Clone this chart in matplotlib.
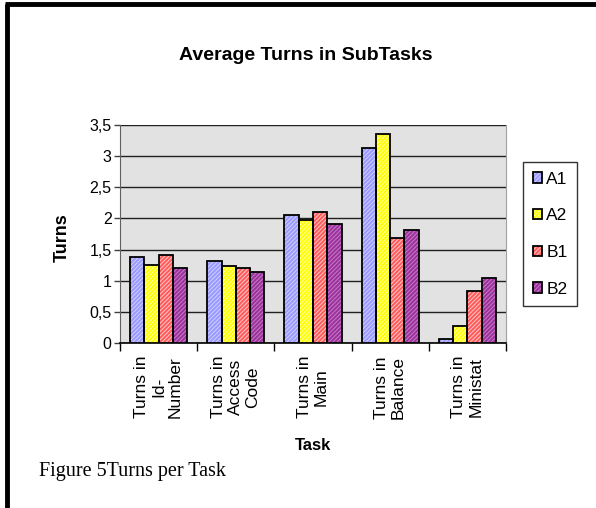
import matplotlib
matplotlib.use("Agg")
import matplotlib.pyplot as plt
import numpy as np
from matplotlib.lines import Line2D
from matplotlib.legend_handler import HandlerTuple

# Data
categories = ["Turns in\nId-\nNumber", "Turns in\nAccess\nCode", "Turns in\nMain",
              "Turns in\nBalance", "Turns in\nMinistat"]
series_names = ["A1", "A2", "B1", "B2"]
a1 = [1.38, 1.32, 2.06, 3.13, 0.06]
a2 = [1.26, 1.23, 1.98, 3.35, 0.28]
b1 = [1.41, 1.20, 2.10, 1.69, 0.83]
b2 = [1.20, 1.14, 1.91, 1.82, 1.05]
y_ticks = [0, 0.5, 1, 1.5, 2, 2.5, 3, 3.5]
y_tick_labels = ["0", "0,5", "1", "1,5", "2", "2,5", "3", "3,5"]

series = [a1, a2, b1, b2]
face_colors = ["#9999ff", "#ffff00", "#ff5a5a", "#993399"]
hatch_colors = ["#d0d0ff", "#ffffa8", "#ffc8c8", "#cc77cc"]

plt.rcParams["font.family"] = ["Liberation Sans", "DejaVu Sans"]
plt.rcParams["hatch.linewidth"] = 0.7

W, H = 596, 508
fig = plt.figure(figsize=(W / 100, H / 100), dpi=100)
fig.patch.set_facecolor("white")

ax = fig.add_axes([120 / W, 1 - 343 / H, 386 / W, 218 / H])
ax.set_facecolor("#e2e2e2")

x = np.arange(len(categories))
bw = 0.185
offsets = (np.arange(len(series)) - 1.5) * bw
handles = []
for vals, off, fc, hc in zip(series, offsets, face_colors, hatch_colors):
    fill = ax.bar(x + off, vals, bw, color=fc, edgecolor=hc, linewidth=0,
                  hatch="////////", zorder=3)
    edge = ax.bar(x + off, vals, bw, fill=False, edgecolor="black",
                  linewidth=1.3, zorder=4)
    handles.append((fill[0], edge[0]))

ax.set_xlim(-0.5, len(categories) - 0.5)
ax.set_ylim(0, 3.5)
ax.set_yticks(y_ticks)
ax.set_yticklabels(y_tick_labels, fontsize=11.5)
ax.yaxis.grid(True, color="#202020", linewidth=1.0, zorder=1)
ax.set_axisbelow(True)

# category labels between boundary ticks
ax.set_xticks(np.arange(len(categories) + 1) - 0.5)
ax.set_xticklabels([])
ax.tick_params(axis="x", direction="out", length=6, width=1, color="black")
ax.tick_params(axis="y", direction="out", length=4, width=1, color="#404040", pad=2)
for xi, lab in zip(x, categories):
    ax.text(xi, -13 / 218, lab, rotation=90, ha="center", va="top",
            multialignment="center", fontsize=12.5, linespacing=1.15,
            transform=ax.get_xaxis_transform())

ax.spines["top"].set_visible(False)
ax.spines["right"].set_color("#a0a0a0")
ax.spines["left"].set_color("#606060")
ax.spines["bottom"].set_color("black")
ax.spines["bottom"].set_linewidth(1.2)

fig.text(306 / W, 1 - 56 / H, "Average Turns in SubTasks", ha="center", va="center",
         fontsize=14, fontweight="bold")
fig.text(62 / W, 1 - 238 / H, "Turns", rotation=90, ha="center", va="center",
         fontsize=13, fontweight="bold")
fig.text(313 / W, 1 - 446 / H, "Task", ha="center", va="center",
         fontsize=12, fontweight="bold")
fig.text(39 / W, 1 - 476 / H, "Figure 5Turns per Task", ha="left", va="baseline",
         fontsize=14.5, family=["Liberation Serif", "DejaVu Serif"])

leg = ax.legend(handles, series_names, handler_map={tuple: HandlerTuple(ndivide=1)},
                loc="upper left", bbox_to_anchor=(523 / W, 1 - 162 / H),
                bbox_transform=fig.transFigure, fontsize=12.5, frameon=True,
                fancybox=False, edgecolor="black", handlelength=0.55,
                handleheight=0.55, handletextpad=0.25, labelspacing=1.25,
                borderpad=0.55, borderaxespad=0)
leg.get_frame().set_linewidth(1.0)

# page border (left and top)
fig.add_artist(Line2D([7 / W, 7 / W], [0, 1 - 4 / H], color="black", linewidth=3.5,
                      transform=fig.transFigure, solid_capstyle="butt"))
fig.add_artist(Line2D([5 / W, 1], [1 - 4 / H, 1 - 4 / H], color="black", linewidth=3.5,
                      transform=fig.transFigure, solid_capstyle="butt"))

fig.savefig("out.png", dpi=100)
